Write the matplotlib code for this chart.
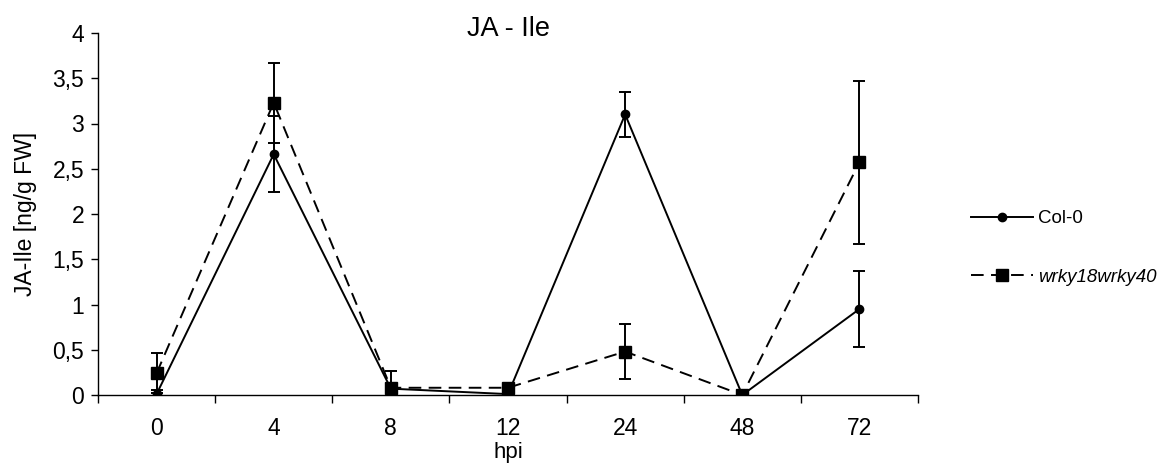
import matplotlib.pyplot as plt
import numpy as np

plt.rcParams['font.family'] = ['Liberation Sans', 'DejaVu Sans']

hpi = ['0', '4', '8', '12', '24', '48', '72']
col0 = [0.01, 2.66, 0.07, 0.01, 3.10, 0.0, 0.95]
col0_err = [0.04, 0.42, 0.05, 0.01, 0.25, 0.02, 0.42]
wrky = [0.24, 3.23, 0.08, 0.08, 0.48, 0.0, 2.57]
wrky_err = [0.22, 0.44, 0.18, 0.02, 0.30, 0.04, 0.90]

x = np.arange(len(hpi))

fig = plt.figure(figsize=(11.65, 4.63), dpi=100)
ax = fig.add_axes([98/1165, 1-395/463, (918-98)/1165, (395-33)/463])

c1 = ax.errorbar(x, col0, yerr=col0_err, color='black', lw=1.4, marker='o', ms=6,
                 capsize=4, capthick=1.4, elinewidth=1.4, zorder=3)
c2 = ax.errorbar(x, wrky, yerr=wrky_err, color='black', lw=1.4, marker='s', ms=8,
                 dashes=(6.5, 3.8), capsize=4, capthick=1.4, elinewidth=1.4, zorder=3)

ax.set_xlim(-0.5, 6.5)
ax.set_ylim(0, 4)
ax.set_xticks(x)
ax.set_xticklabels(hpi)
ax.set_xticks(np.arange(-0.5, 7, 1), minor=True)
ax.tick_params(axis='x', which='major', length=0, pad=16, labelsize=16.5)
ax.tick_params(axis='x', which='minor', length=6, width=1, direction='out')
ax.set_yticks(np.arange(0, 4.01, 0.5))
ax.set_yticklabels(['0', '0,5', '1', '1,5', '2', '2,5', '3', '3,5', '4'])
ax.tick_params(axis='y', length=5, width=1, labelsize=16.5, pad=5)
for s in ['top', 'right']:
    ax.spines[s].set_visible(False)
ax.spines['left'].set_linewidth(1)
ax.spines['bottom'].set_linewidth(1)

ax.set_title('JA - Ile', fontsize=19.5, y=0.993, pad=0)
ax.set_xlabel('hpi', fontsize=16, labelpad=1)
ax.set_ylabel('JA-Ile [ng/g FW]', fontsize=16.5, labelpad=11)

leg = ax.legend([c1[0], c2[0]], ['Col-0', 'wrky18wrky40'], loc='center left',
                bbox_to_anchor=(1.044, 0.406), frameon=False, fontsize=13.5,
                handlelength=3.3, labelspacing=2.2, handletextpad=0.3)
leg.get_texts()[1].set_style('italic')

fig.savefig('out.png', dpi=100)
